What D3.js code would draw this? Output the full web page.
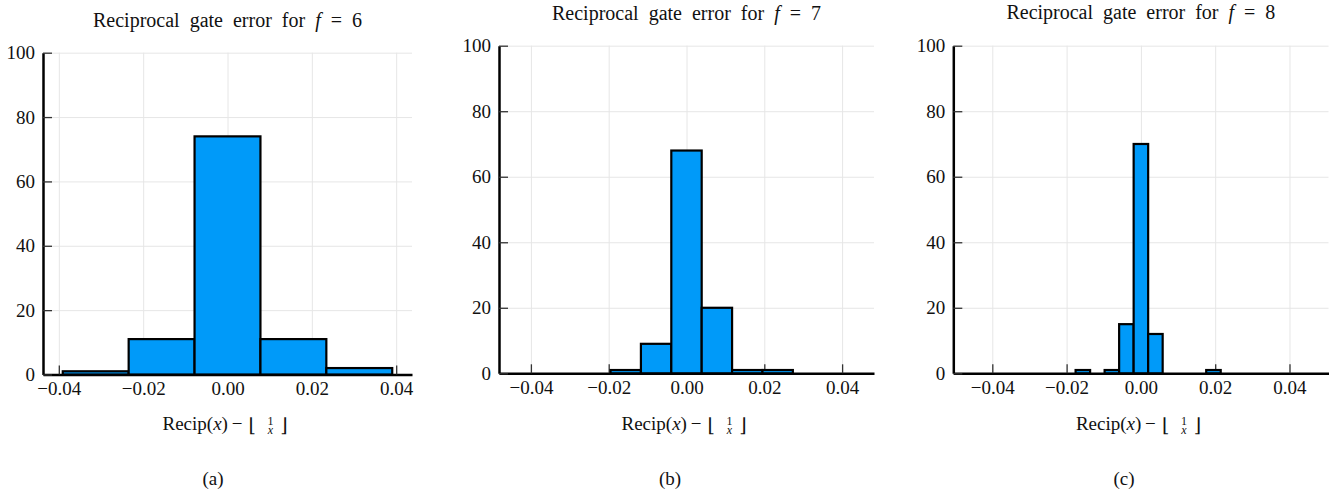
<!DOCTYPE html>
<html>
<head>
<meta charset="utf-8">
<script src="https://cdn.jsdelivr.net/npm/d3@7"></script>
<style>
  body { margin: 0; background: #fff; }
  svg { display: block; font-family: 'Liberation Serif', 'Times New Roman', serif; }
  .grid line { stroke: #e6e6e6; stroke-width: 1; }
  .grid path { display: none; }
  .axis line { stroke: #333; stroke-width: 1.3; }
  .axis path { stroke: #000; stroke-width: 2.5; }
</style>
</head>
<body>
<div id="chart"></div>
<script>
// data: histogram counts per bin, bins centred on multiples of 2^-f
const fValues = [6, 7, 8];
const countsF6 = [1, 11, 74, 11, 2];
const countsF7 = [0, 0, 0, 1, 9, 68, 20, 1, 1, 0, 0];
const countsF8 = [0, 0, 0, 0, 0, 0, 0, 1, 0, 1, 15, 70, 12, 0, 0, 0, 1, 0, 0, 0, 0, 0, 0];
const firstBinIndex = [-2, -5, -11];
const xTicks = [-0.04, -0.02, 0.0, 0.02, 0.04];
const yTicks = [0, 20, 40, 60, 80, 100];
const subLabels = ['(a)', '(b)', '(c)'];

const allCounts = [countsF6, countsF7, countsF8];

// layout of the three sub-figures (pixels)
const panels = [
  { x0: 43, x1: 412, yTop: 52.7, yZero: 374.5, xMax: 0.04375, titleY: 27, subX: 213 },
  { x0: 499, x1: 874, yTop: 45.7, yZero: 373.3, xMax: 0.0482, titleY: 20, subX: 670 },
  { x0: 953.3, x1: 1328.5, yTop: 45.7, yZero: 373.3, xMax: 0.0505, titleY: 19, subX: 1124 },
];

const serif = "'Liberation Serif', 'Times New Roman', serif";

const svg = d3
  .select('#chart')
  .append('svg')
  .attr('width', 1342)
  .attr('height', 491);

panels.forEach((p, i) => {
  const f = fValues[i];
  const counts = allCounts[i];
  const binW = Math.pow(2, -f);
  const bins = counts.map((c, j) => {
    const k = firstBinIndex[i] + j;
    return { lo: (k - 0.5) * binW, hi: (k + 0.5) * binW, count: c };
  });

  const xScale = d3.scaleLinear().domain([-p.xMax, p.xMax]).range([p.x0, p.x1]);
  const yScale = d3.scaleLinear().domain([0, 100]).range([p.yZero, p.yTop]);

  const g = svg.append('g');

  // grid
  g.append('g')
    .attr('class', 'grid')
    .attr('transform', 'translate(0,' + p.yZero + ')')
    .call(d3.axisBottom(xScale).tickValues(xTicks).tickSize(-(p.yZero - p.yTop)).tickFormat(''));
  g.append('g')
    .attr('class', 'grid')
    .attr('transform', 'translate(' + p.x0 + ',0)')
    .call(d3.axisLeft(yScale).tickValues(yTicks).tickSize(-(p.x1 - p.x0)).tickFormat(''));

  // axes, ticks pointing inwards
  const xAxisGroup = g.append('g')
    .attr('class', 'axis')
    .attr('transform', 'translate(0,' + p.yZero + ')')
    .call(
      d3.axisBottom(xScale)
        .tickValues(xTicks)
        .tickSizeInner(-9)
        .tickSizeOuter(0)
        .tickPadding(7)
        .tickFormat((d) => d3.format('.2f')(d).replace('-', '\u2212'))
    );
  const yAxisGroup = g.append('g')
    .attr('class', 'axis')
    .attr('transform', 'translate(' + p.x0 + ',0)')
    .call(
      d3.axisLeft(yScale)
        .tickValues(yTicks)
        .tickSizeInner(-9)
        .tickSizeOuter(0)
        .tickPadding(8)
    );
  [xAxisGroup, yAxisGroup].forEach((ax) => {
    ax.attr('font-family', null).attr('font-size', null);
    ax.selectAll('text')
      .style('font-family', serif)
      .style('font-size', '19px')
      .style('fill', '#111');
  });

  // bars
  g.selectAll('rect.bar')
    .data(bins)
    .enter()
    .append('rect')
    .attr('class', 'bar')
    .attr('x', (d) => xScale(d.lo))
    .attr('width', (d) => xScale(d.hi) - xScale(d.lo))
    .attr('y', (d) => yScale(d.count))
    .attr('height', (d) => yScale(0) - yScale(d.count))
    .attr('fill', '#009AF9')
    .attr('stroke', '#000')
    .attr('stroke-width', 2.2);

  const cx = (p.x0 + p.x1) / 2;

  // title
  const title = g.append('text')
    .attr('x', cx)
    .attr('y', p.titleY)
    .attr('text-anchor', 'middle')
    .style('font-family', serif)
    .style('font-size', '20px')
    .style('word-spacing', '5px')
    .style('fill', '#111');
  title.append('tspan').text('Reciprocal gate error for ');
  title.append('tspan').style('font-style', 'italic').text('f');
  title.append('tspan').text(' = ' + f);

  // x label: Recip(x) − ⌊1/x⌋, pieces placed from the label's left edge
  const lab = g.append('g')
    .attr('transform', 'translate(' + (cx - 65) + ',0)')
    .style('font-family', serif)
    .style('fill', '#111');
  const main = lab.append('text')
    .attr('x', 0)
    .attr('y', 430)
    .style('font-size', '19px');
  main.append('tspan').text('Recip(');
  main.append('tspan').style('font-style', 'italic').text('x');
  main.append('tspan').text(')');
  lab.append('text')
    .attr('x', 74.5)
    .attr('y', 430)
    .attr('text-anchor', 'middle')
    .style('font-size', '19px')
    .text('\u2212');
  lab.append('text')
    .attr('x', 89.5)
    .attr('y', 432)
    .attr('text-anchor', 'middle')
    .style('font-family', 'DejaVu Serif, serif')
    .style('font-size', '19px')
    .text('\u230A');
  lab.append('text')
    .attr('x', 108)
    .attr('y', 424.5)
    .attr('text-anchor', 'middle')
    .style('font-size', '12px')
    .text('1');
  lab.append('text')
    .attr('x', 108)
    .attr('y', 434)
    .attr('text-anchor', 'middle')
    .style('font-size', '12px')
    .style('font-style', 'italic')
    .text('x');
  lab.append('text')
    .attr('x', 121.5)
    .attr('y', 432)
    .attr('text-anchor', 'middle')
    .style('font-family', 'DejaVu Serif, serif')
    .style('font-size', '19px')
    .text('\u230B');

  // sub caption
  svg.append('text')
    .attr('x', p.subX)
    .attr('y', 485)
    .attr('text-anchor', 'middle')
    .style('font-family', serif)
    .style('font-size', '19px')
    .style('fill', '#111')
    .text(subLabels[i]);
});
</script>
</body>
</html>
